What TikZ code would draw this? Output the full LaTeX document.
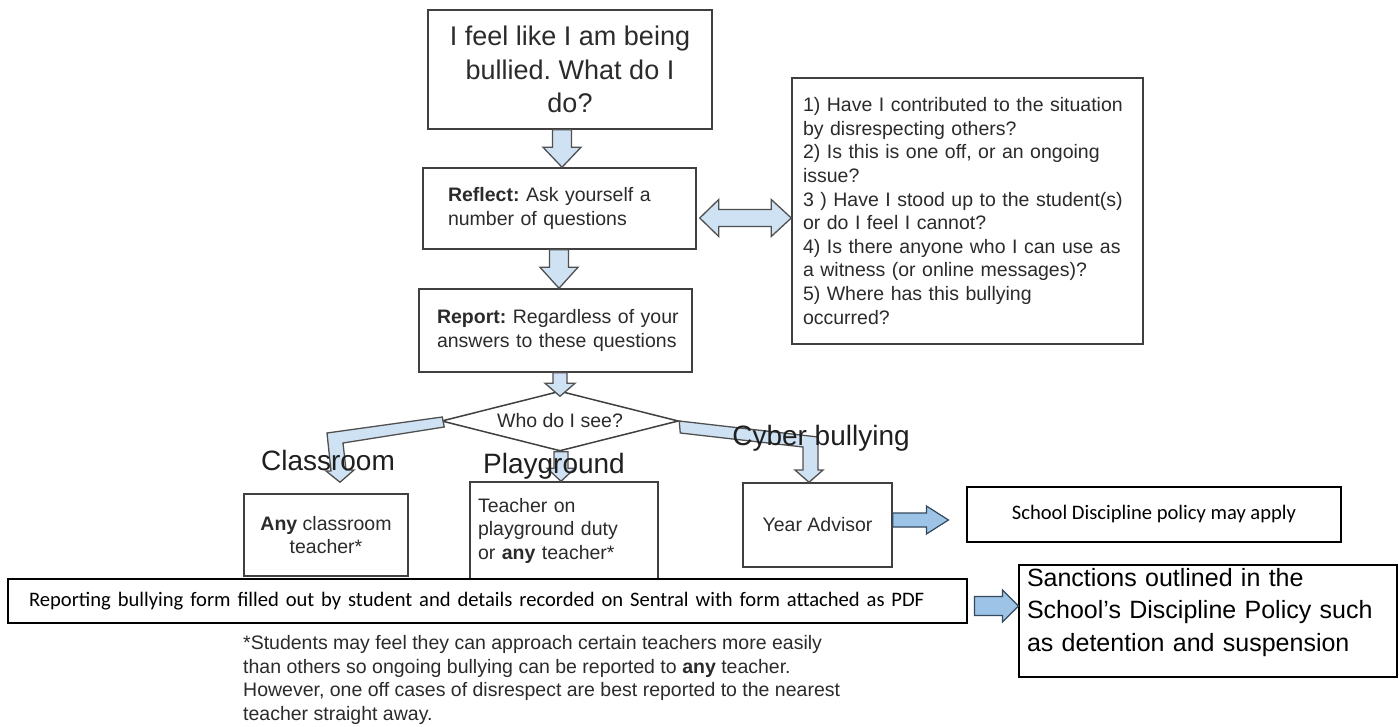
\documentclass[tikz,border=0pt]{standalone}
\usepackage{fontspec}
\setmainfont{Liberation Sans}
\newfontfamily\calib{Carlito}
\usetikzlibrary{shapes.geometric,calc}
\definecolor{bord}{HTML}{404040}
\definecolor{txtc}{HTML}{2B2B2B}
\definecolor{pale}{HTML}{CFE2F3}
\definecolor{paleline}{HTML}{505050}
\definecolor{wblue}{HTML}{9DC3E6}
\definecolor{wline}{HTML}{34495E}
\newcommand\lne[1]{\mbox{#1}}
% vertical block arrow: #1 start, #2 tip, #3 shaft half width, #4 head half width, #5 head length
\newcommand\blkdown[5]{\draw[barrow] ($(#1)+(-#3,0)$) -- ($(#1)+(#3,0)$) -- ($(#2)+(#3,-#5)$) -- ($(#2)+(#4,-#5)$) -- (#2) -- ($(#2)+(-#4,-#5)$) -- ($(#2)+(-#3,-#5)$) -- cycle;}
% horizontal block arrow
\newcommand\blkright[6][barrow]{\draw[#1] ($(#2)+(0,-#4)$) -- ($(#3)+(-#6,-#4)$) -- ($(#3)+(-#6,-#5)$) -- (#3) -- ($(#3)+(-#6,#5)$) -- ($(#3)+(-#6,#4)$) -- ($(#2)+(0,#4)$) -- cycle;}
\begin{document}
\frenchspacing
\begin{tikzpicture}[x=1pt,y=-1pt,
  gbox/.style={draw=bord, line width=1.5pt, fill=white, inner sep=0pt, text=txtc},
  wbox/.style={draw=black, line width=1.1pt, fill=white, inner sep=0pt, text=black},
  barrow/.style={draw=paleline, line width=1.3pt, fill=pale, line join=miter},
  warrow/.style={draw=wline, line width=1.2pt, fill=wblue, line join=miter},
  lab/.style={font=\fontsize{28}{32}\selectfont, text=black!88, inner sep=0pt},
  small/.style={font=\fontsize{19.5}{23.5}\selectfont}
]
\fill[white] (0,0) rectangle (1399,727);
\useasboundingbox (0,0) rectangle (1399,727);

% boxes
\node[gbox, minimum width=284pt, minimum height=119pt, align=center,
      font=\fontsize{27}{33.5}\selectfont] (top) at (570,69.5)
  {I feel like I am being\\bullied. What do I\\do?};
\node[gbox, small, minimum width=273pt, minimum height=81pt, text width=223pt, align=left] (reflect) at (559.5,208.5)
  {\lne{\textbf{Reflect:} Ask yourself a}\\\lne{number of questions}};
\node[gbox, small, minimum width=273pt, minimum height=83pt, text width=237pt, align=left] (report) at (555.5,330.5)
  {\lne{\textbf{Report:} Regardless of your}\\\lne{answers to these questions}};
\node[gbox, font=\fontsize{19.5}{23.6}\selectfont, minimum width=351pt, minimum height=266pt, text width=329pt, align=left] (quest) at (967.5,211)
  {\lne{1) Have I contributed to the situation}\\
   \lne{by disrespecting others?}\\
   \lne{2) Is this is one off, or an ongoing}\\
   \lne{issue?}\\
   \lne{3 ) Have I stood up to the student(s)}\\
   \lne{or do I feel I cannot?}\\
   \lne{4) Is there anyone who I can use as}\\
   \lne{a witness (or online messages)?}\\
   \lne{5) Where has this bullying}\\
   \lne{occurred?}};
\node[diamond, draw=bord, line width=1.5pt, fill=white, minimum width=237pt, minimum height=60pt,
      aspect=3.95, inner sep=0pt, small, text=txtc] (dia) at (560,421) {Who do I see?};
\node[gbox, small, minimum width=164pt, minimum height=82pt, align=center] (clbox) at (326,535)
  {\textbf{Any} classroom\\teacher*};
\node[gbox, small, minimum width=188pt, minimum height=97pt, text width=172pt, align=left] (plbox) at (564,530.5)
  {\lne{Teacher on}\\\lne{playground duty}\\\lne{or \textbf{any} teacher*}};
\node[gbox, small, minimum width=149pt, minimum height=84pt, align=center] (yadv) at (817.5,525)
  {Year Advisor};
\node[wbox, font=\calib\fontsize{20.6}{25}\selectfont, minimum width=374pt, minimum height=55pt] (school) at (1154,514.5)
  {School Discipline policy may apply};
\node[wbox, font=\calib\fontsize{20.6}{25}\selectfont, minimum width=959pt, minimum height=44pt, text width=917pt, align=left] (repform) at (487.5,601)
  {\lne{Reporting bullying form filled out by student and details recorded on Sentral with form attached as PDF}};
\node[wbox, font=\fontsize{25}{32.5}\selectfont, minimum width=378pt, minimum height=112pt, text width=362pt, align=left] (sanc) at (1208,621)
  {\lne{Sanctions outlined in the}\\\lne{School’s Discipline Policy such}\\\lne{as detention and suspension}\par\vspace*{17pt}};

% footnote
\node[small, align=left, anchor=west, inner sep=0pt, text=txtc] (note) at (243,680)
  {*Students may feel they can approach certain teachers more easily\\
   than others so ongoing bullying can be reported to \textbf{any} teacher.\\
   However, one off cases of disrespect are best reported to the nearest\\
   teacher straight away.};

% connector end points
\coordinate (a1s) at (562,0 |- top.south);
\coordinate (a1t) at (562,0 |- reflect.north);
\coordinate (a2s) at (559,0 |- reflect.south);
\coordinate (a2t) at (559,0 |- report.north);
\coordinate (a3s) at (560,0 |- report.south);
\coordinate (a3t) at ($(dia.north)+(0,6)$);
\coordinate (a4s) at (561,0 |- dia.south);
\coordinate (a4t) at (561,0 |- plbox.north);
\coordinate (ctip) at ($(clbox.north)+(14,-11)$);
\coordinate (ytip) at ($(yadv.north)+(-8.5,0)$);
\coordinate (dl) at ($(reflect.east |- 0,218)+(3,0)$);
\coordinate (dr) at (quest.west |- 0,218);
\coordinate (y1s) at (yadv.east |- 0,520);
\coordinate (y1t) at ($(school.west |- 0,520)+(-18,0)$);
\coordinate (r1s) at ($(repform.east |- 0,606)+(7,0)$);
\coordinate (r1t) at (sanc.west |- 0,606);

% block arrows
\blkdown{a1s}{a1t}{9.5}{19}{20}
\blkdown{a2s}{a2t}{9.5}{19}{21}
\blkdown{a3s}{a3t}{7}{15}{13}
\blkdown{a4s}{a4t}{7}{14}{13}
\draw[barrow] (dl) -- ($(dl)+(19,-18.5)$) -- ($(dl)+(19,-8.5)$) -- ($(dr)+(-20,-8.5)$) -- ($(dr)+(-20,-18.5)$)
  -- (dr) -- ($(dr)+(-20,18.5)$) -- ($(dr)+(-20,8.5)$) -- ($(dl)+(19,8.5)$) -- ($(dl)+(19,18.5)$) -- cycle;
\draw[barrow] ($(dia.west)+(1.5,-4)$) -- (327,433) -- (331,471) -- (326,471) -- (ctip) -- (354,470)
  -- (346,470) -- (343,443) -- ($(dia.west)+(3.5,6)$) -- cycle;
\draw[barrow] (dia.east) -- (818,437) -- (818,470) -- (823,470) -- (ytip) -- (795,470) -- (803,470)
  -- (803,447) -- ($(dia.east)+(1,12)$) -- cycle;
\blkright[warrow]{y1s}{y1t}{7}{14}{22}
\blkright[warrow]{r1s}{r1t}{9.5}{16}{16}

% branch labels
\node[lab] (lclass) at (328,460) {Classroom};
\node[lab] (lplay) at (554,466) {Playground};
\node[lab] (lcyber) at (821,438) {Cyber bullying};
\end{tikzpicture}
\end{document}
